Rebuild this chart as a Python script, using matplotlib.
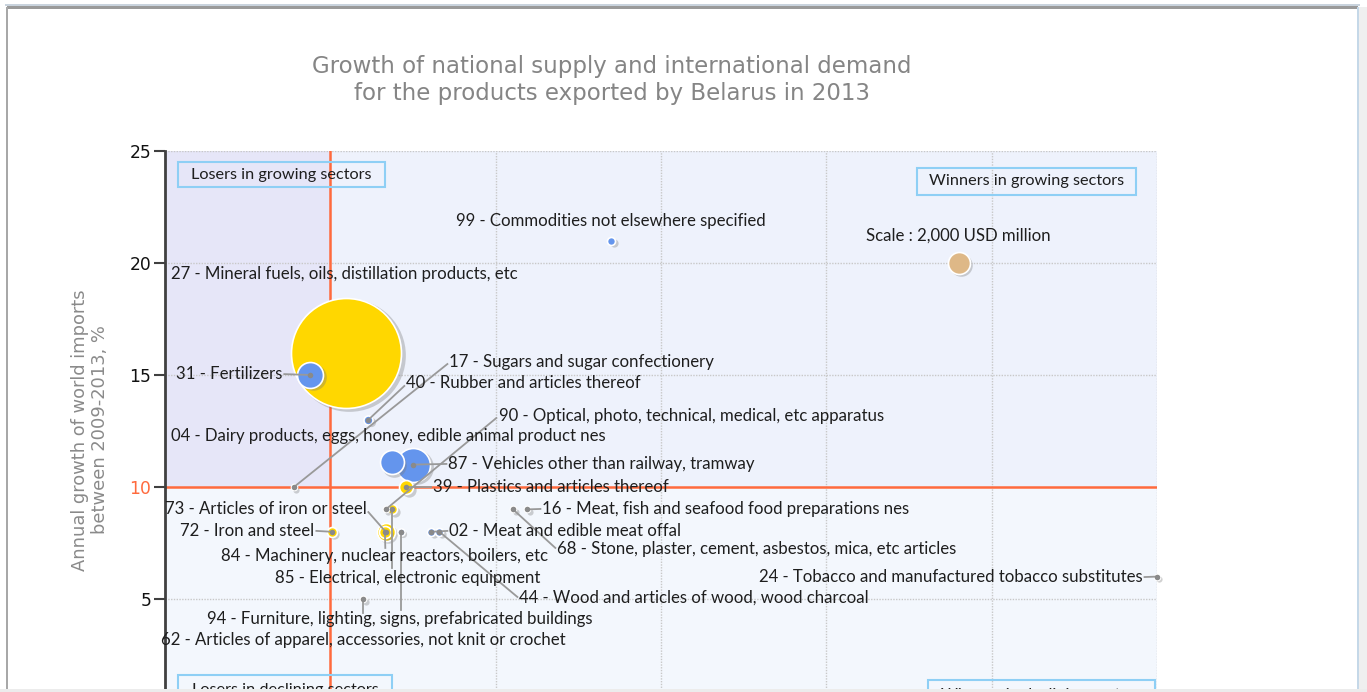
import matplotlib
matplotlib.use("Agg")
import matplotlib.pyplot as plt
from matplotlib.patches import Rectangle
from matplotlib.lines import Line2D
from matplotlib.transforms import offset_copy

# ---------------- data ----------------
hs_codes = ['27', '31', '99', '40', '17', '04', '87', '39', '90', '85',
            '73', '84', '72', '94', '02', '44', '16', '68', '62', '24']
product_names = [
    'Mineral fuels, oils, distillation products, etc',
    'Fertilizers',
    'Commodities not elsewhere specified',
    'Rubber and articles thereof',
    'Sugars and sugar confectionery',
    'Dairy products, eggs, honey, edible animal product nes',
    'Vehicles other than railway, tramway',
    'Plastics and articles thereof',
    'Optical, photo, technical, medical, etc apparatus',
    'Electrical, electronic equipment',
    'Articles of iron or steel',
    'Machinery, nuclear reactors, boilers, etc',
    'Iron and steel',
    'Furniture, lighting, signs, prefabricated buildings',
    'Meat and edible meat offal',
    'Wood and articles of wood, wood charcoal',
    'Meat, fish and seafood food preparations nes',
    'Stone, plaster, cement, asbestos, mica, etc articles',
    'Articles of apparel, accessories, not knit or crochet',
    'Tobacco and manufactured tobacco substitutes',
]
export_growth = [1.9, -2.4, 34.0, 4.6, -4.4, 7.4, 10.0, 9.2, 6.7, 7.5,
                 6.7, 6.6, 0.2, 8.5, 12.2, 13.2, 23.8, 22.1, 4.0, 100.0]
import_growth = [16.0, 15.0, 21.0, 13.0, 10.0, 11.1, 11.0, 10.0, 9.0, 9.0,
                 8.0, 8.0, 8.0, 8.0, 8.0, 8.0, 9.0, 9.0, 5.0, 6.0]
export_value = [10000, 2360, 730, 820, 550, 2180, 3090, 1270, 550, 910,
                1640, 1090, 910, 640, 730, 730, 550, 550, 550, 550]
colour_group = ['yellow', 'blue', 'blue', 'blue', 'grey', 'blue', 'blue', 'yellow', 'grey', 'yellow',
                'yellow', 'yellow', 'yellow', 'blue', 'blue', 'blue', 'blue', 'grey', 'grey', 'grey']

scale_value = 2000          # USD million
scale_point = (76.0, 20.0)
world_import_growth = 10.0
national_threshold = 0.0

y_ticks = [5, 10, 15, 20, 25]
x_grid = [20, 40, 60, 80, 100]

title = "Growth of national supply and international demand\nfor the products exported by Belarus in 2013"
y_label = "Annual growth of world imports\nbetween 2009-2013, %"

# ---------------- layout (label anchors, leader ends) ----------------
# code: (label_x, label_y, ha, leader_end or None)
label_layout = {
    '27': (-19.24, 19.51, 'left', None),
    '31': (-5.81, 15.04, 'right', (-5.57, 15.04)),
    '99': (33.9, 21.87, 'center', None),
    '17': (14.40, 15.58, 'left', (14.16, 15.49)),
    '40': (9.20, 14.64, 'left', (8.95, 14.51)),
    '04': (-19.24, 12.28, 'left', None),
    '90': (20.45, 13.17, 'left', (20.08, 13.08)),
    '87': (14.28, 11.03, 'left', (14.04, 11.03)),
    '39': (12.46, 10.0, 'left', (12.22, 10.0)),
    '73': (4.36, 9.02, 'right', (4.60, 8.88)),
    '72': (-1.94, 8.04, 'right', (-1.69, 8.04)),
    '84': (6.53, 6.92, 'center', (6.65, 7.28)),
    '85': (9.32, 5.94, 'center', (7.5, 6.38)),
    '94': (8.35, 4.11, 'center', (8.5, 4.51)),
    '62': (3.99, 3.17, 'center', (4.0, 4.38)),
    '02': (14.40, 8.04, 'left', (14.16, 8.04)),
    '44': (22.87, 5.04, 'left', (22.63, 5.09)),
    '16': (25.65, 9.02, 'left', (25.41, 9.02)),
    '68': (27.46, 7.23, 'left', (27.22, 7.28)),
    '24': (98.24, 5.98, 'right', (98.49, 5.98)),
}

W, H, DPI = 1367, 692, 100
colours = {'yellow': '#FFD700', 'blue': '#6495ED', 'grey': '#8E8E8E'}
scale_colour = '#DEB887'
red = '#FF6A3D'
label_font = ['Lato', 'DejaVu Sans']
px_per_value = 11.0 / scale_value   # bubble radius in pixels per USD million

fig = plt.figure(figsize=(W / DPI, H / DPI), dpi=DPI)
fig.patch.set_facecolor('white')
renderer = fig.canvas.get_renderer()


def fit_size(text, family, target_px, base=10.0, **kw):
    t = fig.text(0, 0, text, fontsize=base, family=family, **kw)
    w = t.get_window_extent(renderer).width
    t.remove()
    return base * target_px / w


def fx(px):
    return px / W


def fy(py):
    return 1 - py / H


# frame decorations
fig.add_artist(Rectangle((fx(7), fy(9)), fx(1351), 3 / H, transform=fig.transFigure,
                         facecolor='#9A9A9A', edgecolor='none'))
fig.add_artist(Rectangle((fx(5), fy(6)), fx(1355), 2 / H, transform=fig.transFigure,
                         facecolor='#C9D3DD', edgecolor='none'))
fig.add_artist(Rectangle((fx(6), 0), 2 / W, fy(7), transform=fig.transFigure,
                         facecolor='#A8A8A8', edgecolor='none'))
fig.add_artist(Rectangle((fx(1357), 0), 2 / W, fy(7), transform=fig.transFigure,
                         facecolor='#C5D8E8', edgecolor='none'))
fig.add_artist(Rectangle((fx(1359), 0), fx(8), fy(7), transform=fig.transFigure,
                         facecolor='#EFEFEF', edgecolor='none'))
fig.add_artist(Rectangle((0, 0), 1, 3.5 / H, transform=fig.transFigure,
                         facecolor='#ECECEC', edgecolor='none', zorder=50))

ax = fig.add_axes([fx(165), fy(711), fx(1157 - 165), (711 - 151) / H])
ax.set_xlim(-20, 100)
ax.set_ylim(0, 25)
ax.set_facecolor('none')

# quadrant backgrounds
ax.add_patch(Rectangle((-20, world_import_growth), national_threshold + 20, 25 - world_import_growth,
                       facecolor='#E6E6F8', edgecolor='none', zorder=0))
ax.add_patch(Rectangle((national_threshold, world_import_growth), 100 - national_threshold,
                       25 - world_import_growth, facecolor='#EEF2FC', edgecolor='none', zorder=0))
ax.add_patch(Rectangle((-20, 0), 120, world_import_growth,
                       facecolor='#F3F7FD', edgecolor='none', zorder=0))

# grid
for gx in x_grid:
    ax.axvline(gx, color='#C8C8C8', lw=1, ls=(0, (1, 1)), zorder=1)
for gy in y_ticks:
    if gy != world_import_growth:
        ax.axhline(gy, color='#C8C8C8', lw=1, ls=(0, (1, 1)), zorder=1)

ax.axvline(national_threshold, color=red, lw=1.8, zorder=2)
ax.axhline(world_import_growth, color=red, lw=1.8, zorder=2)

for s in ['top', 'right', 'bottom']:
    ax.spines[s].set_visible(False)
ax.spines['left'].set_color('#404040')
ax.spines['left'].set_linewidth(2)
ax.set_xticks([])
ax.set_yticks(y_ticks)
ax.tick_params(axis='y', length=8, width=1.5, color='#404040', labelsize=12.3, pad=2)
for lab in ax.get_yticklabels():
    lab.set_color(red if float(lab.get_text()) == world_import_growth else '#111111')

# titles
tsize = fit_size(title.split('\n')[0], 'DejaVu Sans', 599)
fig.text(fx(612), fy(80), title, ha='center', va='center', fontsize=tsize,
         color='#858585', linespacing=1.2)
ysize = fit_size(y_label.split('\n')[0], 'DejaVu Sans', 282)
fig.text(fx(90), fy(430), y_label, ha='center', va='center', rotation=90,
         fontsize=ysize, color='#8A8A8A', linespacing=1.2)

lsize = fit_size('27 - ' + product_names[0], label_font, 348)

shadow_tr = offset_copy(ax.transData, fig=fig, x=2.5, y=-2.5, units='dots')


def msize(v):
    d_pt = 2 * v * px_per_value * 72.0 / DPI
    return d_pt ** 2


order = sorted(range(len(hs_codes)), key=lambda i: -export_value[i])
z = 5
for i in order:
    x, y, v = export_growth[i], import_growth[i], export_value[i]
    ax.scatter([x], [y], s=msize(v) * 1.05, color='#7A7A7A', alpha=0.35,
               transform=shadow_tr, zorder=z, linewidths=0, clip_on=False)
    ax.scatter([x], [y], s=msize(v), color=colours[colour_group[i]], edgecolors='white',
               linewidths=1.2, zorder=z + 0.1, clip_on=False)
    z += 0.2

# scale bubble
ax.scatter([scale_point[0]], [scale_point[1]], s=msize(scale_value) * 1.05, color='#7A7A7A',
           alpha=0.35, transform=shadow_tr, zorder=5, linewidths=0)
ax.scatter([scale_point[0]], [scale_point[1]], s=msize(scale_value), color=scale_colour,
           edgecolors='white', linewidths=1.2, zorder=5.1)
ax.text(scale_point[0], 21.21, 'Scale : 2,000 USD million', ha='center', va='center',
        fontsize=lsize, family=label_font, color='#1E1E1E', zorder=20)

# labels and leader lines
for i, code in enumerate(hs_codes):
    lx, ly, ha, lead = label_layout[code]
    if lead is not None:
        ax.plot([export_growth[i], lead[0]], [import_growth[i], lead[1]], color='#999999',
                lw=1.3, zorder=12, clip_on=False)
        ax.plot([export_growth[i]], [import_growth[i]], 'o', color='#8A8A8A', ms=4,
                mec='none', zorder=12.5, clip_on=False)
    ax.text(lx, ly, f'{code} - {product_names[i]}', ha=ha, va='center', fontsize=lsize,
            family=label_font, color='#1E1E1E', zorder=20)

# quadrant captions
boxes = [
    ('Losers in growing sectors', (-18.39, 23.39), 25.04, 1.12, (-5.93, 23.93)),
    ('Winners in growing sectors', (71.02, 23.04), 26.5, 1.2, (84.2, 23.66)),
    ('Losers in declining sectors', (-18.39, -0.5), 25.9, 2.11, (-5.4, 0.94)),
    ('Winners in declining sectors', (72.35, -0.5), 27.35, 1.88, (86.0, 0.71)),
]
bsize = fit_size('Losers in growing sectors', label_font, 181)
for txt, (bx, by), bw, bh, (tx, ty) in boxes:
    ax.add_patch(Rectangle((bx, by), bw, bh, facecolor='none', edgecolor='#8ECFF5',
                           lw=1.5, zorder=15, clip_on=False))
    ax.text(tx, ty, txt, ha='center', va='center', fontsize=bsize, family=label_font,
            color='#1E1E1E', zorder=20)

fig.savefig('out.png', dpi=DPI)
